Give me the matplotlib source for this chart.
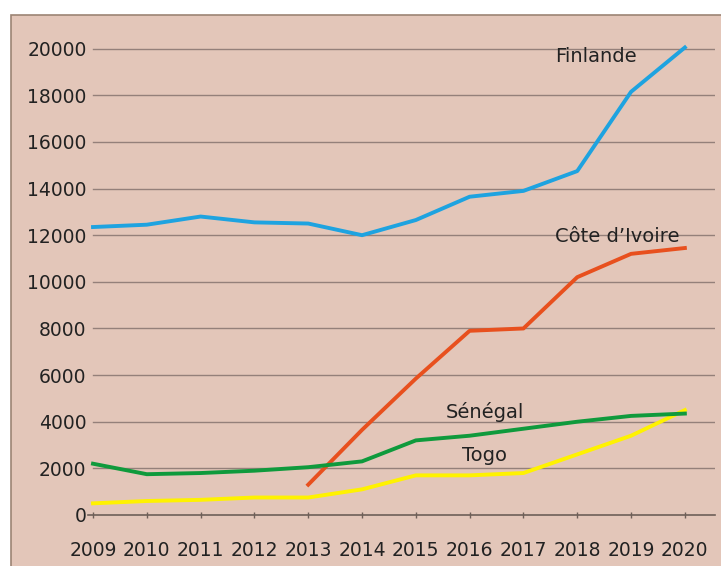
import matplotlib.pyplot as plt
from matplotlib.patches import Rectangle

years = list(range(2009, 2021))
finlande = [12350, 12450, 12800, 12550, 12500, 12000, 12650, 13650, 13900, 14750, 18150, 20050]
civ_years = list(range(2013, 2021))
cote_ivoire = [1300, 3650, 5850, 7900, 8000, 10200, 11200, 11450]
senegal = [2200, 1750, 1800, 1900, 2050, 2300, 3200, 3400, 3700, 4000, 4250, 4350]
togo = [500, 600, 650, 750, 750, 1100, 1700, 1700, 1800, 2600, 3400, 4500]
yticks = list(range(0, 20001, 2000))

bg = '#e3c6b9'
W, H = 721, 566
fig = plt.figure(figsize=(W / 100, H / 100), dpi=100, facecolor='white')

# pink panel with a thin brown frame, kept behind the axes
fig.patches.append(Rectangle((11 / W, -0.01), 1.0, 1 - 15 / H + 0.01,
                             transform=fig.transFigure, facecolor=bg,
                             edgecolor='#9c8474', lw=1.2, zorder=-10))

ax = fig.add_axes([88 / W, 1 - 515 / H, (715 - 88) / W, (515 - 37) / H])
ax.set_facecolor('none')
ax.set_xlim(2008.907, 2020.56)
ax.set_ylim(0, 20500)

for s in ['top', 'right', 'left']:
    ax.spines[s].set_visible(False)
ax.spines['bottom'].set_color('#6e5f58')
ax.spines['bottom'].set_linewidth(1.2)

for v in yticks[1:]:
    ax.plot([2009, 2020.56], [v, v], color='#94807a', lw=1.0, zorder=1)

ax.set_yticks(yticks)
ax.set_xticks(years)
ax.tick_params(axis='y', length=0, pad=1, labelsize=13.5, labelcolor='#222222')
ax.tick_params(axis='x', length=4, width=1, color='#6e5f58', direction='inout',
               pad=17, labelsize=13.5, labelcolor='#222222')

ax.plot(years, finlande, color='#1ea3e0', lw=2.8, zorder=3)
ax.plot(civ_years, cote_ivoire, color='#e8501e', lw=2.8, zorder=3)
ax.plot(years, togo, color='#fff200', lw=2.8, zorder=3)
ax.plot(years, senegal, color='#0f9a3c', lw=2.8, zorder=4)

kw = dict(fontsize=14, color='#222222', zorder=5, ha='left', va='center')
ax.text(2017.58, 19670, 'Finlande', **kw)
ax.text(2017.58, 11930, 'Côte d’Ivoire', **kw)
ax.text(2015.55, 4400, 'Sénégal', **kw)
ax.text(2015.85, 2550, 'Togo', **kw)

fig.savefig('out.png', dpi=100, facecolor='white')
